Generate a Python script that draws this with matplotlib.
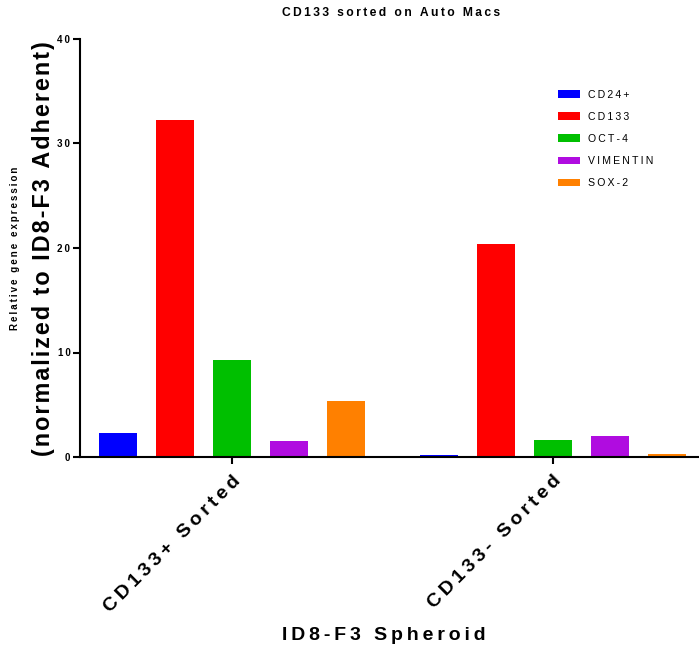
import matplotlib
matplotlib.use("Agg")
import matplotlib.pyplot as plt
import numpy as np

groups = ["CD133+ Sorted", "CD133- Sorted"]
genes = ["CD24+", "CD133", "OCT-4", "VIMENTIN", "SOX-2"]
colors = ["#0000ff", "#ff0000", "#00bf00", "#b00ce0", "#ff8000"]
values = {
    "CD24+":    [2.3, 0.2],
    "CD133":    [32.25, 20.4],
    "OCT-4":    [9.3, 1.6],
    "VIMENTIN": [1.55, 2.0],
    "SOX-2":    [5.35, 0.25],
}
yticks = [0, 10, 20, 30, 40]

plt.rcParams["font.family"] = ["Liberation Sans", "DejaVu Sans"]

THIN = "\u2009"
HAIR = "\u200a"


def tracked(s, gap=THIN):
    """Widen letter spacing by putting a narrow space between characters."""
    return gap.join(s)


W, H = 699, 649
fig = plt.figure(figsize=(W / 100, H / 100), dpi=100)
ax = fig.add_axes([80 / W, (H - 457) / H, (W - 80) / W, (457 - 39) / H])

x = np.arange(len(groups))
step = 0.178
width = 0.118
for i, (g, c) in enumerate(zip(genes, colors)):
    ax.bar(x + (i - 2) * step, values[g], width, color=c,
           label=tracked(g, THIN), linewidth=0)

ax.set_xlim(-0.474, 1.455)
ax.set_ylim(0, 40)
ax.set_yticks(yticks)
ax.set_yticklabels([tracked(str(t), THIN) for t in yticks], fontsize=7,
                   fontweight="bold")
ax.set_xticks(x)
ax.set_xticklabels([tracked(g, THIN) for g in groups], rotation=45, ha="right",
                   rotation_mode="anchor", fontsize=14, fontweight="bold")
for s in ["top", "right"]:
    ax.spines[s].set_visible(False)
for s in ["left", "bottom"]:
    ax.spines[s].set_linewidth(1.5)
ax.tick_params(axis="both", direction="out", width=1.5, length=5, pad=2)
ax.tick_params(axis="x", pad=6)

fig.text(391 / W, 1 - 13 / H, tracked("CD133 sorted on Auto Macs", THIN),
         ha="center", va="center", fontsize=8.7, fontweight="bold")
fig.text(15 / W, 1 - 248 / H, tracked("Relative gene expression", THIN),
         rotation=90, ha="center", va="center", fontsize=7, fontweight="bold")
fig.text(44 / W, 1 - 249 / H, tracked("(normalized to ID8-F3 Adherent)", HAIR),
         rotation=90, ha="center", va="center", fontsize=16.8, fontweight="bold")
fig.text(384 / W, 1 - 635 / H, tracked("ID8-F3 Spheroid", THIN),
         ha="center", va="center", fontsize=14, fontweight="bold")

leg = ax.legend(loc="upper left", bbox_to_anchor=(548 / W, 1 - 80 / H),
                bbox_transform=fig.transFigure, frameon=False, fontsize=7.6,
                handlelength=2.1, handleheight=0.7, labelspacing=1.15,
                handletextpad=0.75)

fig.savefig("out.png", dpi=100)
